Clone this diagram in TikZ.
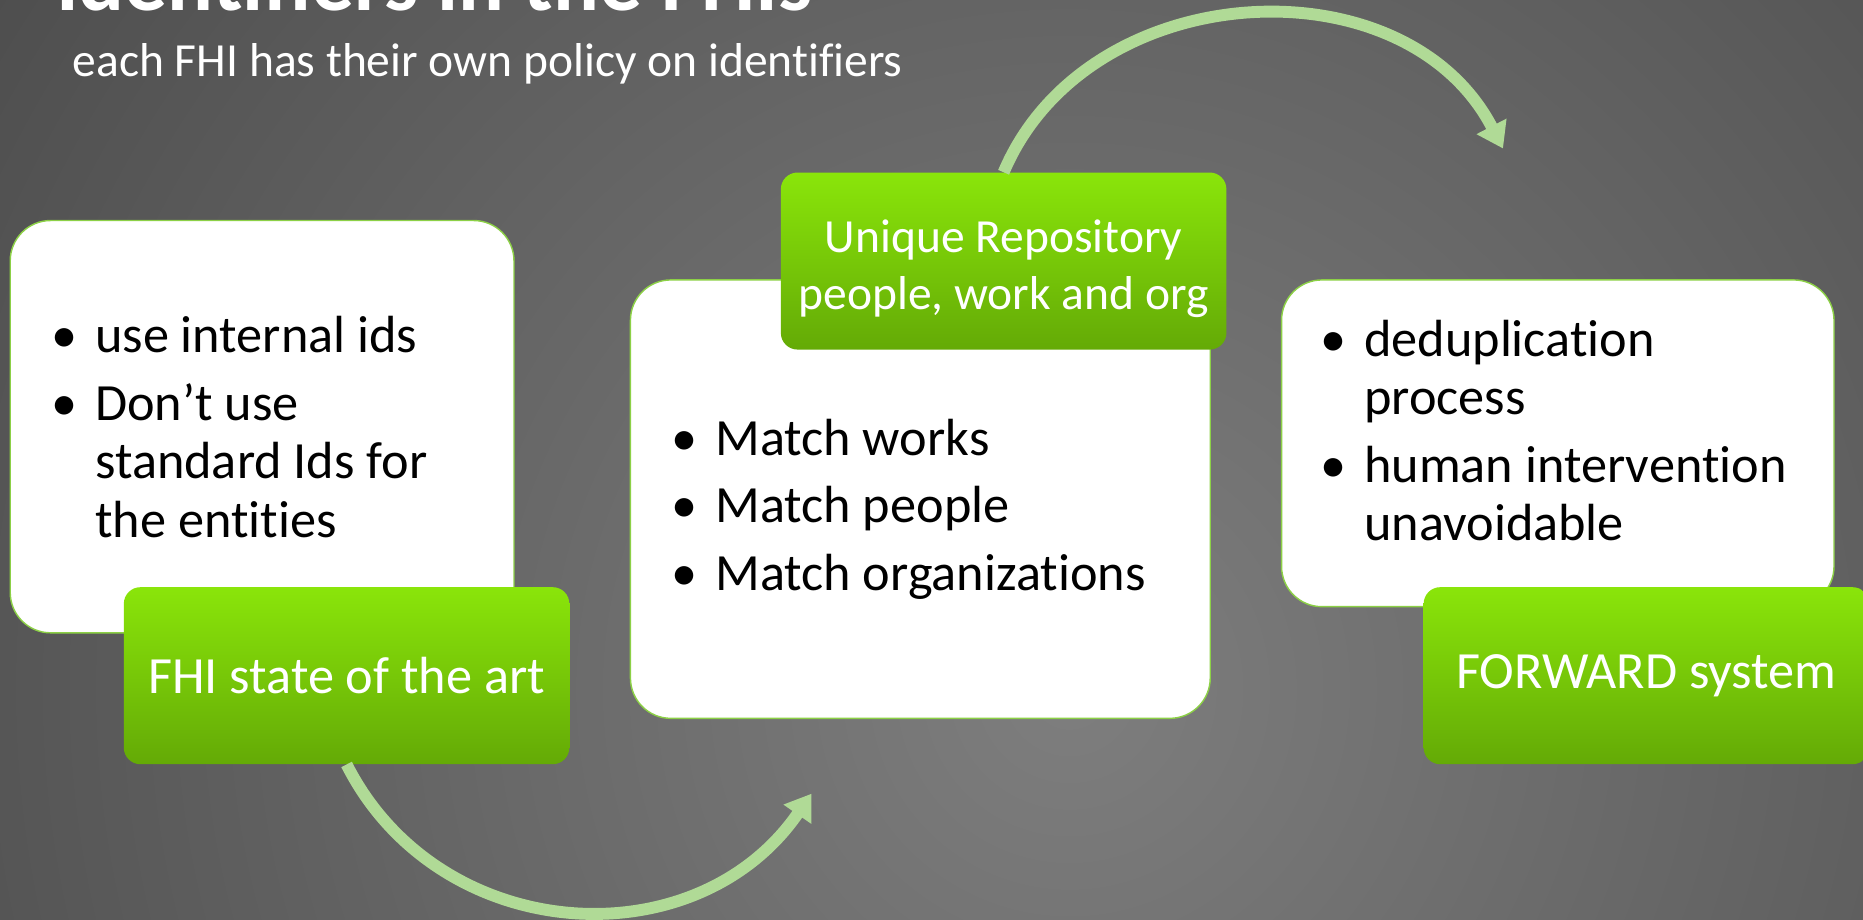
\documentclass[tikz,border=0pt]{standalone}
\usepackage{fontspec}
\setmainfont{Carlito}[Ligatures={TeX,NoCommon}]
\usetikzlibrary{arrows.meta, positioning}
\definecolor{bglight}{RGB}{126,126,126}
\definecolor{bgdark}{RGB}{28,28,28}
\definecolor{labeltop}{RGB}{138,229,10}
\definecolor{labelbot}{RGB}{100,170,6}
\definecolor{edgegreen}{RGB}{140,208,70}
\definecolor{flowgreen}{RGB}{176,218,150}
\tikzset{
  infobox/.style  = {draw=edgegreen, line width=1.2pt, fill=white, rounded corners=34pt, anchor=north west, inner sep=0pt},
  labelbox/.style = {rounded corners=14pt, top color=labeltop, bottom color=labelbot, text=white, anchor=north west,
                     minimum width=375pt, minimum height=149pt, align=center, inner sep=0pt, font=\fontsize{44}{52}\selectfont},
  bullets/.style  = {anchor=base west, inner sep=0pt, font=\fontsize{44}{49}\selectfont},
  flow/.style     = {draw=flowgreen, line width=10pt, -{Triangle[length=21pt, width=27pt]}},
}
\newcommand{\bul}{\makebox[37pt][l]{•}}

\begin{document}
\begin{tikzpicture}[x=1pt, y=-1pt]

% background
\clip (0,0) rectangle (1568,773.5);
\fill [bgdark] (0,0) rectangle (1568,773.5);
\shade [inner color=bglight, outer color=bgdark] (900,580) circle (2200pt);

% title
\node [anchor=base west, inner sep=0pt, text=white, font=\fontsize{72}{80}\selectfont\bfseries] (title) at (47,9) {Identifiers in the FHIs};
\node [anchor=base west, inner sep=0pt, text=white, font=\fontsize{40}{48}\selectfont] (subtitle) at (61,64) {each FHI has their own policy on identifiers};

% boxes
\node [infobox, minimum width=424pt, minimum height=347pt] (state) at (8,185)    {};
\node [infobox, minimum width=488pt, minimum height=369pt] (match) at (530,235)  {};
\node [infobox, minimum width=465pt, minimum height=275pt] (dedup) at (1078,235) {};

% labels
\node [labelbox]                                  (fhi)     at (104,494)  {FHI state of the art};
\node [labelbox, font=\fontsize{40}{48}\selectfont] (repo)  at (657,145)  {\rule{0pt}{40pt}Unique Repository\\people, work and org};
\node [labelbox]                                  (forward) at (1198,494) {FORWARD system};

% bullet lists
\node [bullets] (statetxt) at (43,297) {\begin{tabular}[t]{@{}l@{}l@{}}
  \bul & use internal ids\\[8pt]
  \bul & Don’t use\\
       & standard Ids for\\
       & the entities
\end{tabular}};
\node [bullets] (matchtxt) at (565,383) {\begin{tabular}[t]{@{}l@{}l@{}}
  \bul & Match works\\[8pt]
  \bul & Match people\\[8pt]
  \bul & Match organizations
\end{tabular}};
\node [bullets] (deduptxt) at (1111,300) {\begin{tabular}[t]{@{}l@{}l@{}}
  \bul & deduplication\\
       & process\\[8pt]
  \bul & human intervention\\
       & unavoidable
\end{tabular}};

% edges
\coordinate (repoin) at (683,668);
\coordinate (fwdin)  at (1265,125);
\draw [flow] (fhi.south)  .. controls (369,796) and (585,810) .. (repoin);
\draw [flow] (repo.north) .. controls (915,-21) and (1182,-35) .. (fwdin);

\end{tikzpicture}
\end{document}
